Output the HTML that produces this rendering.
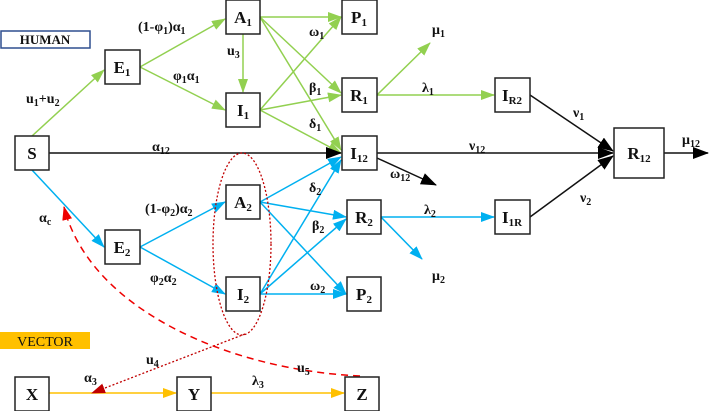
<!DOCTYPE html>
<html><head><meta charset="utf-8"><style>
body{margin:0;background:#fff}
svg{display:block}
text{font-family:"Liberation Serif",serif;font-weight:bold;font-size:14px;fill:#111}
.b{fill:#fff;stroke:#222;stroke-width:1.5}
.bl{font-size:17px}
</style></head><body>
<svg width="709" height="411" viewBox="0 0 709 411">
<defs>
<marker id="g" markerWidth="14" markerHeight="10" refX="13" refY="5" orient="auto" markerUnits="userSpaceOnUse"><path d="M0,0L14,5L0,10z" fill="#92d050"/></marker>
<marker id="c" markerWidth="14" markerHeight="10" refX="13" refY="5" orient="auto" markerUnits="userSpaceOnUse"><path d="M0,0L14,5L0,10z" fill="#00b0f0"/></marker>
<marker id="k" markerWidth="16" markerHeight="12" refX="15" refY="6" orient="auto" markerUnits="userSpaceOnUse"><path d="M0,0L16,6L0,12z" fill="#000"/></marker>
<marker id="o" markerWidth="14" markerHeight="10" refX="13" refY="5" orient="auto" markerUnits="userSpaceOnUse"><path d="M0,0L14,5L0,10z" fill="#ffc000"/></marker>
<marker id="r" markerWidth="14" markerHeight="10" refX="13" refY="5" orient="auto" markerUnits="userSpaceOnUse"><path d="M0,0L14,5L0,10z" fill="#c00000"/></marker>
<marker id="r2" markerWidth="14" markerHeight="10" refX="13" refY="5" orient="auto" markerUnits="userSpaceOnUse"><path d="M0,0L14,5L0,10z" fill="#e00"/></marker>
</defs>
<rect x="1" y="31" width="89" height="17" fill="#fff" stroke="#2f4f8f" stroke-width="1.5"/>
<text x="45" y="44" text-anchor="middle" style="font-size:13px">HUMAN</text>
<rect x="0" y="332" width="90" height="17" fill="#ffc000"/>
<text x="45" y="346" text-anchor="middle" style="font-weight:normal;font-size:14px">VECTOR</text>
<g stroke="#92d050" stroke-width="1.5" fill="none">
<line x1="32" y1="136" x2="104" y2="70" marker-end="url(#g)"/>
<line x1="140" y1="67" x2="225" y2="19" marker-end="url(#g)"/>
<line x1="140" y1="67" x2="225" y2="110" marker-end="url(#g)"/>
<line x1="243" y1="34" x2="243" y2="92" marker-end="url(#g)"/>
<line x1="260" y1="17" x2="341" y2="17" marker-end="url(#g)"/>
<line x1="260" y1="17" x2="341" y2="93" marker-end="url(#g)"/>
<line x1="260" y1="17" x2="341" y2="150" marker-end="url(#g)"/>
<line x1="260" y1="110" x2="341" y2="17" marker-end="url(#g)"/>
<line x1="260" y1="110" x2="341" y2="95" marker-end="url(#g)"/>
<line x1="260" y1="110" x2="341" y2="153" marker-end="url(#g)"/>
<line x1="377" y1="95" x2="430" y2="43" marker-end="url(#g)"/>
<line x1="377" y1="95" x2="494" y2="95" marker-end="url(#g)"/>
</g>
<g stroke="#00b0f0" stroke-width="1.5" fill="none">
<line x1="32" y1="170" x2="104" y2="247" marker-end="url(#c)"/>
<line x1="140" y1="247" x2="225" y2="202" marker-end="url(#c)"/>
<line x1="140" y1="247" x2="225" y2="294" marker-end="url(#c)"/>
<line x1="260" y1="202" x2="341" y2="157" marker-end="url(#c)"/>
<line x1="260" y1="202" x2="346" y2="217" marker-end="url(#c)"/>
<line x1="260" y1="202" x2="346" y2="294" marker-end="url(#c)"/>
<line x1="260" y1="294" x2="341" y2="160" marker-end="url(#c)"/>
<line x1="260" y1="294" x2="346" y2="219" marker-end="url(#c)"/>
<line x1="260" y1="294" x2="346" y2="294" marker-end="url(#c)"/>
<line x1="381" y1="217" x2="494" y2="217" marker-end="url(#c)"/>
<line x1="381" y1="217" x2="422" y2="259" marker-end="url(#c)"/>
</g>
<g stroke="#111" stroke-width="1.5" fill="none">
<line x1="49" y1="153" x2="341" y2="153" marker-end="url(#k)"/>
<line x1="377" y1="153" x2="613" y2="153" marker-end="url(#k)"/>
<line x1="377" y1="158" x2="436" y2="185" marker-end="url(#k)"/>
<line x1="530" y1="95" x2="613" y2="151" marker-end="url(#k)"/>
<line x1="530" y1="217" x2="613" y2="156" marker-end="url(#k)"/>
<line x1="664" y1="153" x2="708" y2="153" marker-end="url(#k)"/>
</g>
<g stroke="#ffc000" stroke-width="1.5" fill="none">
<line x1="49" y1="393" x2="176" y2="393" marker-end="url(#o)"/>
<line x1="211" y1="393" x2="344" y2="393" marker-end="url(#o)"/>
</g>
<ellipse cx="242" cy="244" rx="29" ry="91" fill="none" stroke="#c00000" stroke-width="1.3" stroke-dasharray="2,2"/>
<path d="M245,334 L92,393" fill="none" stroke="#c00000" stroke-width="1.3" stroke-dasharray="2,2" marker-end="url(#r)"/>
<path d="M360,376 C230,370 90,310 64,207" fill="none" stroke="#e00" stroke-width="1.5" stroke-dasharray="7,5" marker-end="url(#r2)"/>
<g>
<rect class="b" x="15" y="136" width="34" height="34"/><text class="bl" x="32" y="159" text-anchor="middle">S</text>
<rect class="b" x="105" y="50" width="35" height="34"/><text class="bl" x="122" y="73" text-anchor="middle">E<tspan font-size="11" dy="3">1</tspan></text>
<rect class="b" x="226" y="0" width="34" height="34"/><text class="bl" x="243" y="23" text-anchor="middle">A<tspan font-size="11" dy="3">1</tspan></text>
<rect class="b" x="226" y="93" width="34" height="34"/><text class="bl" x="243" y="116" text-anchor="middle">I<tspan font-size="11" dy="3">1</tspan></text>
<rect class="b" x="342" y="0" width="35" height="34"/><text class="bl" x="359" y="23" text-anchor="middle">P<tspan font-size="11" dy="3">1</tspan></text>
<rect class="b" x="342" y="78" width="35" height="34"/><text class="bl" x="359" y="101" text-anchor="middle">R<tspan font-size="11" dy="3">1</tspan></text>
<rect class="b" x="342" y="136" width="35" height="34"/><text class="bl" x="359" y="159" text-anchor="middle">I<tspan font-size="11" dy="3">12</tspan></text>
<rect class="b" x="495" y="78" width="35" height="34"/><text class="bl" x="512" y="101" text-anchor="middle">I<tspan font-size="11" dy="3">R2</tspan></text>
<rect class="b" x="614" y="128" width="50" height="50"/><text class="bl" x="639" y="159" text-anchor="middle">R<tspan font-size="11" dy="3">12</tspan></text>
<rect class="b" x="105" y="230" width="35" height="34"/><text class="bl" x="122" y="253" text-anchor="middle">E<tspan font-size="11" dy="3">2</tspan></text>
<rect class="b" x="226" y="185" width="34" height="34"/><text class="bl" x="243" y="208" text-anchor="middle">A<tspan font-size="11" dy="3">2</tspan></text>
<rect class="b" x="226" y="277" width="34" height="34"/><text class="bl" x="243" y="300" text-anchor="middle">I<tspan font-size="11" dy="3">2</tspan></text>
<rect class="b" x="347" y="200" width="34" height="34"/><text class="bl" x="364" y="223" text-anchor="middle">R<tspan font-size="11" dy="3">2</tspan></text>
<rect class="b" x="347" y="277" width="34" height="34"/><text class="bl" x="364" y="300" text-anchor="middle">P<tspan font-size="11" dy="3">2</tspan></text>
<rect class="b" x="495" y="200" width="35" height="34"/><text class="bl" x="512" y="223" text-anchor="middle">I<tspan font-size="11" dy="3">1R</tspan></text>
<rect class="b" x="15" y="377" width="34" height="34"/><text class="bl" x="32" y="400" text-anchor="middle">X</text>
<rect class="b" x="177" y="377" width="34" height="34"/><text class="bl" x="194" y="400" text-anchor="middle">Y</text>
<rect class="b" x="345" y="377" width="34" height="34"/><text class="bl" x="362" y="400" text-anchor="middle">Z</text>
</g>
<g>
<text x="26" y="103">u<tspan font-size="10" dy="3">1</tspan><tspan dy="-3">+u</tspan><tspan font-size="10" dy="3">2</tspan></text>
<text x="138" y="31">(1-φ<tspan font-size="10" dy="3">1</tspan><tspan dy="-3">)α</tspan><tspan font-size="10" dy="3">1</tspan></text>
<text x="173" y="80">φ<tspan font-size="10" dy="3">1</tspan><tspan dy="-3">α</tspan><tspan font-size="10" dy="3">1</tspan></text>
<text x="227" y="55">u<tspan font-size="10" dy="3">3</tspan></text>
<text x="309" y="36">ω<tspan font-size="10" dy="3">1</tspan></text>
<text x="309" y="92">β<tspan font-size="10" dy="3">1</tspan></text>
<text x="309" y="128">δ<tspan font-size="10" dy="3">1</tspan></text>
<text x="432" y="34">μ<tspan font-size="10" dy="3">1</tspan></text>
<text x="422" y="92">λ<tspan font-size="10" dy="3">1</tspan></text>
<text x="573" y="117">ν<tspan font-size="10" dy="3">1</tspan></text>
<text x="152" y="151">α<tspan font-size="10" dy="3">12</tspan></text>
<text x="469" y="150">ν<tspan font-size="10" dy="3">12</tspan></text>
<text x="682" y="144">μ<tspan font-size="10" dy="3">12</tspan></text>
<text x="390" y="178">ω<tspan font-size="10" dy="3">12</tspan></text>
<text x="309" y="192">δ<tspan font-size="10" dy="3">2</tspan></text>
<text x="39" y="222">α<tspan font-size="10" dy="3">c</tspan></text>
<text x="145" y="213">(1-φ<tspan font-size="10" dy="3">2</tspan><tspan dy="-3">)α</tspan><tspan font-size="10" dy="3">2</tspan></text>
<text x="150" y="282">φ<tspan font-size="10" dy="3">2</tspan><tspan dy="-3">α</tspan><tspan font-size="10" dy="3">2</tspan></text>
<text x="312" y="230">β<tspan font-size="10" dy="3">2</tspan></text>
<text x="310" y="290">ω<tspan font-size="10" dy="3">2</tspan></text>
<text x="424" y="214">λ<tspan font-size="10" dy="3">2</tspan></text>
<text x="432" y="280">μ<tspan font-size="10" dy="3">2</tspan></text>
<text x="580" y="202">ν<tspan font-size="10" dy="3">2</tspan></text>
<text x="146" y="364">u<tspan font-size="10" dy="3">4</tspan></text>
<text x="84" y="382">α<tspan font-size="10" dy="3">3</tspan></text>
<text x="297" y="372">u<tspan font-size="10" dy="3">5</tspan></text>
<text x="252" y="385">λ<tspan font-size="10" dy="3">3</tspan></text>
</g>
</svg>
</body></html>
